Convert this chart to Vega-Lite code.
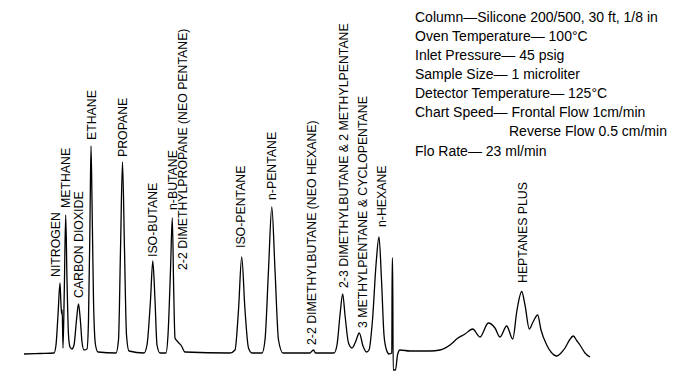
{
  "$schema": "https://vega.github.io/schema/vega-lite/v6.json",
  "width": 673,
  "height": 374,
  "padding": 0,
  "autosize": {"type": "none"},
  "background": "white",
  "config": {"view": {"stroke": null}},
  "datasets": {
    "trace": [
      {"t": 24, "s": 0}, {"t": 40, "s": 0.5}, {"t": 54, "s": 1}, {"t": 56, "s": 9}, {"t": 58, "s": 39},
      {"t": 60, "s": 71}, {"t": 61, "s": 49}, {"t": 61.7, "s": 40}, {"t": 62.2, "s": 44}, {"t": 63, "s": 6},
      {"t": 64.3, "s": 64}, {"t": 65.7, "s": 139}, {"t": 67, "s": 74}, {"t": 68.5, "s": 19}, {"t": 70, "s": 7},
      {"t": 72, "s": 5}, {"t": 74, "s": 9}, {"t": 76.5, "s": 34}, {"t": 78.5, "s": 50}, {"t": 80.5, "s": 32},
      {"t": 82, "s": 12}, {"t": 84, "s": 4}, {"t": 87, "s": 5}, {"t": 88.5, "s": 34}, {"t": 90, "s": 134},
      {"t": 91, "s": 208}, {"t": 92, "s": 154}, {"t": 93.5, "s": 54}, {"t": 95.5, "s": 9}, {"t": 98, "s": 2},
      {"t": 116, "s": 1}, {"t": 118.5, "s": 14}, {"t": 120.5, "s": 104}, {"t": 122.5, "s": 192}, {"t": 124.5, "s": 104},
      {"t": 126.5, "s": 19}, {"t": 129, "s": 3}, {"t": 144, "s": 1}, {"t": 147, "s": 9}, {"t": 150.5, "s": 54},
      {"t": 152.8, "s": 93}, {"t": 155, "s": 54}, {"t": 157, "s": 9}, {"t": 160, "s": 1}, {"t": 166, "s": 1},
      {"t": 168, "s": 19}, {"t": 170.5, "s": 84}, {"t": 172.3, "s": 136}, {"t": 173.7, "s": 64}, {"t": 175, "s": 16},
      {"t": 178, "s": 12}, {"t": 181.5, "s": 8}, {"t": 185, "s": 2}, {"t": 230, "s": 1}, {"t": 235, "s": 4},
      {"t": 238.5, "s": 44}, {"t": 241.7, "s": 97}, {"t": 245, "s": 44}, {"t": 248.5, "s": 6}, {"t": 252, "s": 1},
      {"t": 262, "s": 1}, {"t": 265, "s": 14}, {"t": 268.5, "s": 84}, {"t": 271.8, "s": 147}, {"t": 275, "s": 84},
      {"t": 278.5, "s": 14}, {"t": 283, "s": 1}, {"t": 310, "s": 1}, {"t": 312, "s": 3}, {"t": 313.5, "s": 4},
      {"t": 315.5, "s": 1}, {"t": 334, "s": 1}, {"t": 337, "s": 9}, {"t": 340, "s": 39}, {"t": 342.7, "s": 60},
      {"t": 345, "s": 39}, {"t": 348.5, "s": 11}, {"t": 352, "s": 6}, {"t": 355.5, "s": 12}, {"t": 359.3, "s": 21},
      {"t": 363, "s": 8}, {"t": 366.5, "s": 2}, {"t": 369, "s": 4}, {"t": 372.5, "s": 34}, {"t": 376, "s": 89},
      {"t": 379, "s": 117}, {"t": 381.5, "s": 74}, {"t": 384, "s": 19}, {"t": 386.5, "s": 4}, {"t": 389, "s": 0},
      {"t": 391.8, "s": 1}, {"t": 392.2, "s": 96}, {"t": 392.6, "s": 96}, {"t": 393.2, "s": -16}, {"t": 395.5, "s": -16},
      {"t": 397.5, "s": -1}, {"t": 400, "s": 4}, {"t": 410, "s": 3}, {"t": 430, "s": 3}, {"t": 440, "s": 4},
      {"t": 450, "s": 9}, {"t": 458, "s": 16}, {"t": 465, "s": 20}, {"t": 472.7, "s": 25}, {"t": 480, "s": 17},
      {"t": 488.3, "s": 31}, {"t": 495, "s": 26}, {"t": 500, "s": 17}, {"t": 506.7, "s": 28}, {"t": 512.7, "s": 15},
      {"t": 517, "s": 44}, {"t": 521.7, "s": 62.5}, {"t": 525, "s": 49}, {"t": 529.3, "s": 25}, {"t": 533, "s": 32},
      {"t": 537.7, "s": 39}, {"t": 541, "s": 24}, {"t": 546.7, "s": 9}, {"t": 551, "s": 2}, {"t": 556.7, "s": -2},
      {"t": 561, "s": 1}, {"t": 565, "s": 6}, {"t": 569.5, "s": 14}, {"t": 573.3, "s": 18}, {"t": 577, "s": 13},
      {"t": 580, "s": 9}, {"t": 585, "s": 1}, {"t": 590, "s": -3}
    ],
    "labels": [
      {"name": "NITROGEN", "t": 56, "s": 77},
      {"name": "METHANE", "t": 65.5, "s": 146},
      {"name": "CARBON DIOXIDE", "t": 78.5, "s": 56},
      {"name": "ETHANE", "t": 92, "s": 214},
      {"name": "PROPANE", "t": 122.5, "s": 197},
      {"name": "ISO-BUTANE", "t": 153, "s": 97},
      {"name": "n-BUTANE", "t": 172.5, "s": 144},
      {"name": "2-2 DIMETHYLPROPANE (NEO PENTANE)", "t": 183, "s": 84},
      {"name": "ISO-PENTANE", "t": 241, "s": 106},
      {"name": "n-PENTANE", "t": 272, "s": 154},
      {"name": "2-2 DIMETHYLBUTANE (NEO HEXANE)", "t": 312, "s": 9},
      {"name": "2-3 DIMETHYLBUTANE & 2 METHYLPENTANE", "t": 344, "s": 66},
      {"name": "3 METHYLPENTANE & CYCLOPENTANE", "t": 363, "s": 26},
      {"name": "n-HEXANE", "t": 382, "s": 127},
      {"name": "HEPTANES PLUS", "t": 523, "s": 71}
    ],
    "info": [
      {"line": "Column\u2014Silicone 200/500, 30 ft, 1/8 in", "t": 415, "s": 336},
      {"line": "Oven Temperature\u2014 100°C", "t": 415, "s": 317},
      {"line": "Inlet Pressure\u2014 45 psig", "t": 415, "s": 298},
      {"line": "Sample Size\u2014 1 microliter", "t": 415, "s": 279},
      {"line": "Detector Temperature\u2014 125°C", "t": 415, "s": 260},
      {"line": "Chart Speed\u2014 Frontal Flow 1cm/min", "t": 415, "s": 241},
      {"line": "Reverse Flow 0.5 cm/min", "t": 509, "s": 222},
      {"line": "Flo Rate\u2014 23 ml/min", "t": 415, "s": 202}
    ]
  },
  "layer": [
    {
      "data": {"name": "trace"},
      "mark": {"type": "line", "interpolate": "monotone", "color": "black", "strokeWidth": 1.3},
      "encoding": {
        "x": {"field": "t", "type": "quantitative", "scale": {"domain": [0, 673], "nice": false, "zero": false}, "axis": null},
        "y": {"field": "s", "type": "quantitative", "scale": {"domain": [-20, 354], "nice": false, "zero": false}, "axis": null}
      }
    },
    {
      "data": {"name": "labels"},
      "mark": {"type": "text", "angle": 270, "align": "left", "baseline": "middle", "font": "Liberation Sans", "fontSize": 12.3, "color": "black"},
      "encoding": {
        "x": {"field": "t", "type": "quantitative"},
        "y": {"field": "s", "type": "quantitative"},
        "text": {"field": "name"}
      }
    },
    {
      "data": {"name": "info"},
      "mark": {"type": "text", "align": "left", "baseline": "middle", "font": "Liberation Sans", "fontSize": 14, "color": "black"},
      "encoding": {
        "x": {"field": "t", "type": "quantitative"},
        "y": {"field": "s", "type": "quantitative"},
        "text": {"field": "line"}
      }
    }
  ]
}
